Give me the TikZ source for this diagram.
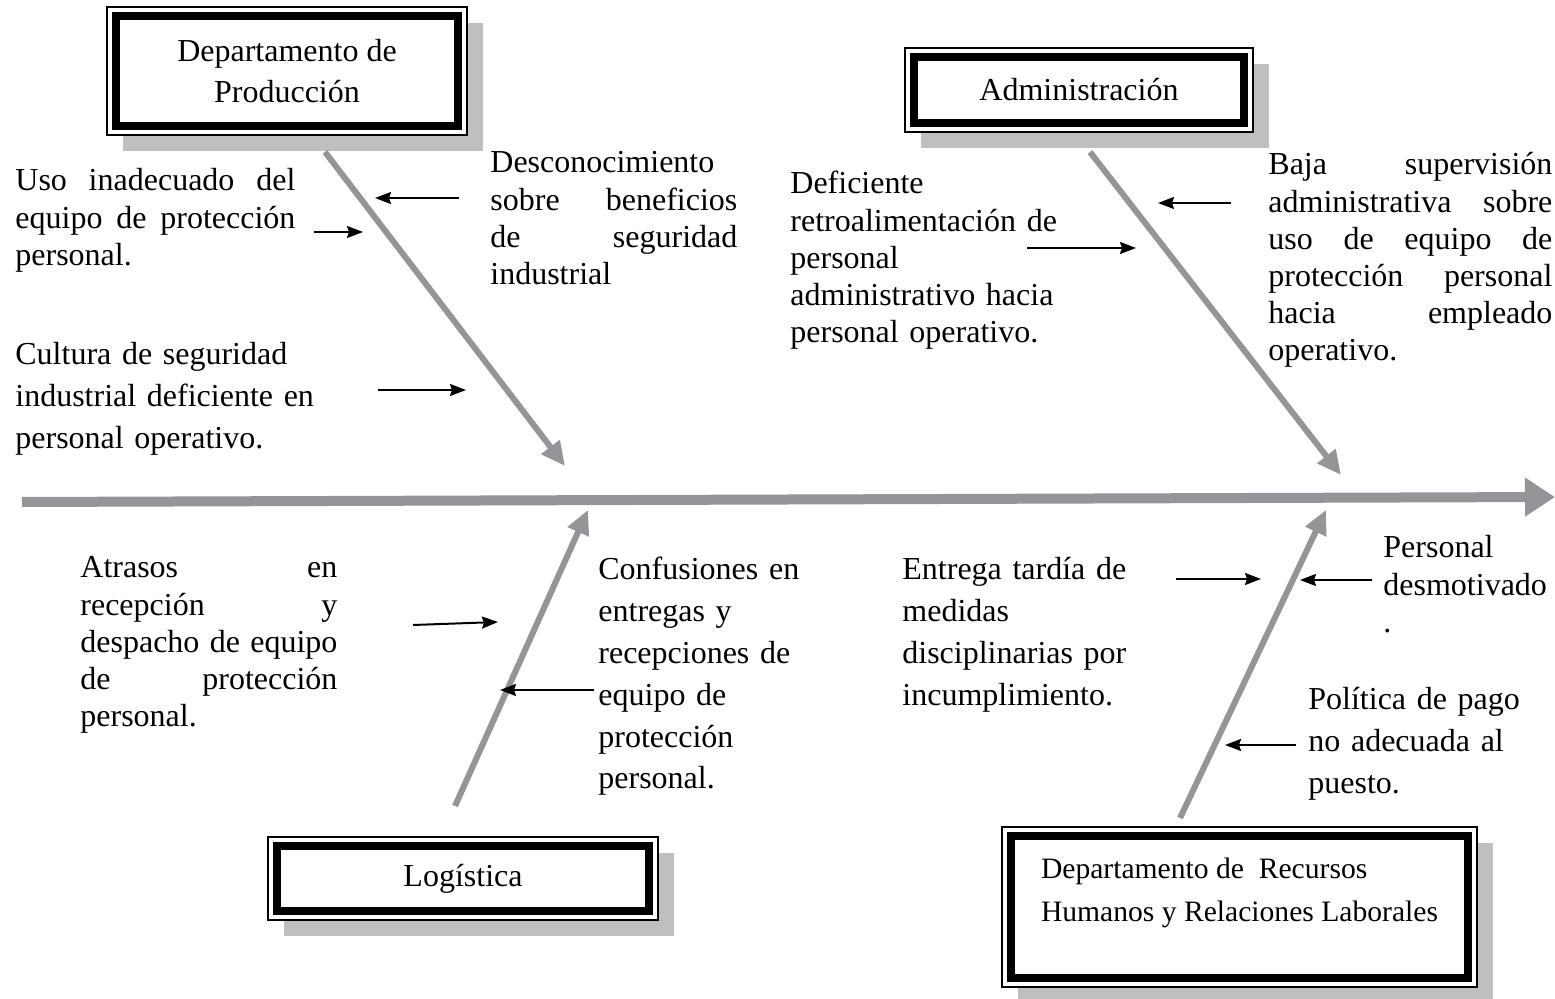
\documentclass[tikz,border=0pt]{standalone}
\usepackage{fontspec}
\setmainfont{Liberation Serif}
\usetikzlibrary{arrows.meta,shadows}
\definecolor{bonegray}{HTML}{939598}
\definecolor{shadegray}{HTML}{BFBFBF}
\begin{document}
\begin{tikzpicture}[x=0.5pt,y=-0.5pt,
  box/.style={draw=black, line width=0.8pt, fill=white, inner sep=0pt,
    drop shadow={shadow xshift=8pt, shadow yshift=-8pt, fill=shadegray, opacity=1},
    path picture={\draw[line width=3.75pt]
      ([shift={(4.5pt,-4.5pt)}]path picture bounding box.north west) rectangle
      ([shift={(-4.5pt,4.5pt)}]path picture bounding box.south east);},
    font=\fontsize{16pt}{20.5pt}\selectfont},
  txt/.style={anchor=base west, inner sep=0pt, align=left,
    font=\fontsize{16pt}{18.6pt}\selectfont},
  txtw/.style={txt, font=\fontsize{16pt}{20.9pt}\selectfont},
  spine/.style={draw=bonegray, line width=5pt, -{Triangle[length=15pt,width=18.5pt]}},
  bone/.style={draw=bonegray, line width=3pt, -{Triangle[length=12pt,width=11pt]}},
  cause/.style={draw=black, line width=1pt, -{Stealth[length=8pt,width=6pt,inset=1pt]}}
]
\useasboundingbox (0,0) rectangle (1555,999);

% category boxes
\node[box, minimum width=180pt, minimum height=64pt, align=center] (prod) at (287,71) {Departamento de\\Producción};
\node[box, minimum width=174pt, minimum height=42pt] (adm) at (1079,90) {Administración};
\node[box, minimum width=195pt, minimum height=41.5pt] (log) at (463,878.5) {Logística};
\node[box, minimum width=237.5pt, minimum height=80pt, align=left,
  font=\fontsize{14.8pt}{21.5pt}\selectfont] (rh) at (1239.5,907)
  {Departamento de\ \ Recursos\\Humanos y Relaciones Laborales\\[-4.2pt]\mbox{}};

% spine and bones
\coordinate (sp0) at (22,502);
\coordinate (sp1) at (1555,497);
\draw[spine] (sp0) -- (sp1);

\coordinate (b1s) at (325,152);  \coordinate (b1e) at (565,466);
\coordinate (b2s) at (1090,152); \coordinate (b2e) at (1341,475);
\coordinate (b3s) at (455,806);  \coordinate (b3e) at (588,510);
\coordinate (b4s) at (1180,818); \coordinate (b4e) at (1326,510);
\draw[bone] (b1s) -- (b1e);
\draw[bone] (b2s) -- (b2e);
\draw[bone] (b3s) -- (b3e);
\draw[bone] (b4s) -- (b4e);

% cause texts
\node[txt, text width=140pt] (tA) at (15,191)
  {Uso\hfill inadecuado\hfill del\\equipo\hfill de\hfill protección\\personal.};
\node[txt, text width=123.5pt] (tB) at (490,173)
  {Desconocimiento\\sobre\hfill beneficios\\de\hfill seguridad\\industrial};
\node[txtw, text width=160pt] (tC) at (15,365)
  {Cultura de seguridad\\industrial deficiente en\\personal operativo.};
\node[txt, text width=135pt] (tD) at (790,194)
  {Deficiente\\retroalimentación de\\personal\\administrativo hacia\\personal operativo.};
\node[txt, text width=142pt] (tE) at (1268,175)
  {Baja\hfill supervisión\\administrativa\hfill sobre\\uso\hfill de\hfill equipo\hfill de\\protección\hfill personal\\hacia\hfill empleado\\operativo.};
\node[txt, text width=128.5pt] (tF) at (80,578)
  {Atrasos\hfill en\\recepción\hfill y\\despacho\hfill de\hfill equipo\\de\hfill protección\\personal.};
\node[txtw, text width=110pt] (tG) at (598,580)
  {Confusiones en\\entregas y\\recepciones de\\equipo de\\protección\\personal.};
\node[txtw, text width=120pt] (tH) at (902,580)
  {Entrega tardía de\\medidas\\disciplinarias por\\incumplimiento.};
\node[txt, text width=85pt] (tI) at (1383,558)
  {Personal\\desmotivado\\.};
\node[txtw, text width=115pt] (tJ) at (1308,710)
  {Política de pago\\no adecuada al\\puesto.};

% cause arrows
\coordinate (a1s) at (459,198);  \coordinate (a1e) at (375,198);
\coordinate (a2s) at (314,232);  \coordinate (a2e) at (363,232);
\coordinate (a3s) at (378,390);  \coordinate (a3e) at (466,390);
\coordinate (a4s) at (1231,203); \coordinate (a4e) at (1158,203);
\coordinate (a5s) at (1027,248); \coordinate (a5e) at (1136,248);
\coordinate (a6s) at (413,625);  \coordinate (a6e) at (498,622);
\coordinate (a7s) at (594,690);  \coordinate (a7e) at (500,690);
\coordinate (a8s) at (1176,579); \coordinate (a8e) at (1261,579);
\coordinate (a9s) at (1372,580); \coordinate (a9e) at (1300,580);
\coordinate (a10s) at (1296,745); \coordinate (a10e) at (1225,745);
\foreach \i in {1,...,10} {\draw[cause] (a\i s) -- (a\i e);}
\end{tikzpicture}
\end{document}
